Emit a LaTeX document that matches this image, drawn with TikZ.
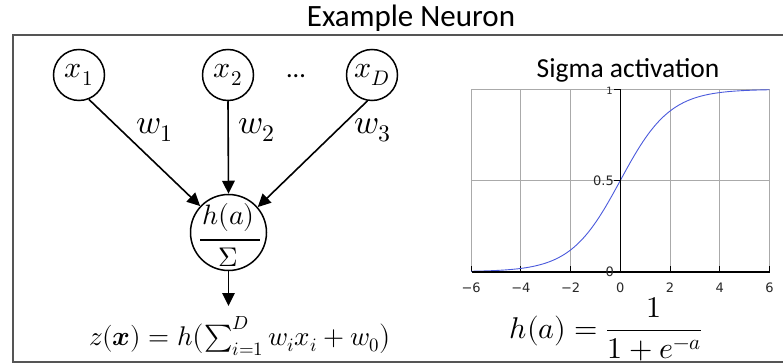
\documentclass[tikz,border=0pt]{standalone}
\usepackage{fontspec}
\usepackage{unicode-math}
\setmainfont{Carlito}
\newfontfamily\tickfont{DejaVu Sans}
\usetikzlibrary{arrows.meta}
\definecolor{framegray}{RGB}{85,85,85}
\definecolor{gridgray}{RGB}{170,170,170}
\definecolor{curveblue}{RGB}{75,90,220}
\definecolor{ticktext}{RGB}{40,40,40}
\tikzset{
  neuron/.style={draw, circle, line width=1.5pt, inner sep=0pt, minimum size=51pt,
    font=\fontsize{30}{34}\selectfont},
  hidden/.style={draw, circle, line width=1.5pt, inner sep=0pt, minimum size=76pt},
  conn/.style={line width=1.6pt, -{Triangle[length=13pt,width=12.5pt]}},
  wlabel/.style={font=\fontsize{34}{38}\selectfont},
  ticklab/.style={font=\tickfont\fontsize{13}{14}\selectfont, inner sep=0pt, text=ticktext},
  title/.style={anchor=base, inner sep=0pt},
}
\begin{document}
\begin{tikzpicture}[x=1pt,y=-1pt]
\useasboundingbox (0,0) rectangle (783,363);
% frame
\draw[framegray, line width=2pt] (795,35) -- (13,35) -- (13,361.5) -- (795,361.5);
\node[title, font=\fontsize{31}{34}\selectfont] (ttl) at (411,27) {Example Neuron};
% inputs
\node[neuron] (x1) at (79,75) {$x_1$};
\node[neuron] (x2) at (228,75) {$x_2$};
\node[neuron] (xD) at (372,75) {$x_D$};
\node[font=\fontsize{26}{30}\selectfont] (dots) at (296,76) {...};
% hidden
\node[hidden] (h) at (228.5,232.5) {};
\node[font=\fontsize{28}{32}\selectfont, inner sep=0pt] (ha) at (228.5,217) {$h(a)$};
\node[font=\fontsize{27}{30}\selectfont, inner sep=0pt] (sig) at (228.5,257) {$\Sigma$};
\draw[line width=1.5pt] (200,240) -- (260,240);
% connectors
\draw[conn] (x1.-68) -- (h.137);
\draw[conn] (x2.south) -- (h.north);
\draw[conn] (xD.-100) -- (h.41);
\coordinate (out) at (228.5,306);
\draw[conn] (h.south) -- (out);
% labels
\node[wlabel] (w1) at (155,130) {$w_1$};
\node[wlabel] (w2) at (257,130) {$w_2$};
\node[wlabel] (w3) at (373,130) {$w_3$};
% output formula
\node[font=\fontsize{27}{31}\selectfont, anchor=base, inner sep=0pt] (zf) at (240,345)
  {$z(\symbfit{x}) = h\bigl(\sum_{i=1}^{D} w_i x_i + w_0\bigr)$};
% plot
\node[title, font=\fontsize{27.5}{30}\selectfont] (sgt) at (628,78) {Sigma activation};
\foreach \a in {-6,-4,-2,2,4,6}{
  \draw[gridgray, line width=0.8pt] ({620.3+24.86*\a},89.3) -- ({620.3+24.86*\a},271.7);
}
\draw[gridgray, line width=0.8pt] (471.7,89.3) -- (770,89.3);
\draw[gridgray, line width=0.8pt] (471.7,180.5) -- (770,180.5);
\foreach \a in {-6,-4,-2,2,4,6}{
  \draw[black, line width=1pt] ({620.3+24.86*\a},271.7) -- ({620.3+24.86*\a},266);
}
\draw[curveblue, line width=0.9pt] plot[domain=-6:6, samples=120, smooth]
  ({620.3+24.86*\x},{271.7-182.4/(1+exp(-\x))});
\draw[black, line width=1.6pt] (471.7,271.7) -- (770,271.7);
\draw[black, line width=1.6pt] (620.3,271.7) -- (620.3,89.3);
\foreach \yy in {89.3,180.5,271.7}{
  \draw[black, line width=1pt] (614,\yy) -- (620.3,\yy);
}
\node[ticklab, anchor=east, font=\tickfont\fontsize{10}{11}\selectfont] (ly1) at (613,91) {1};
\node[ticklab, anchor=east] (ly5) at (614,180.5) {0.5};
\node[ticklab, anchor=east] (ly0) at (614,271.7) {0};
\foreach \a/\t in {-6/−6,-4/−4,-2/−2,0/0,2/2,4/4,6/6}{
  \node[ticklab, anchor=base] (lx\a) at ({620.3+24.86*\a},292) {\t};
}
% activation formula
\node[font=\fontsize{30}{34}\selectfont, anchor=base, inner sep=0pt] (hf) at (606,338)
  {$h(a) = \dfrac{1}{1+e^{-a}}$};
\end{tikzpicture}
\end{document}
